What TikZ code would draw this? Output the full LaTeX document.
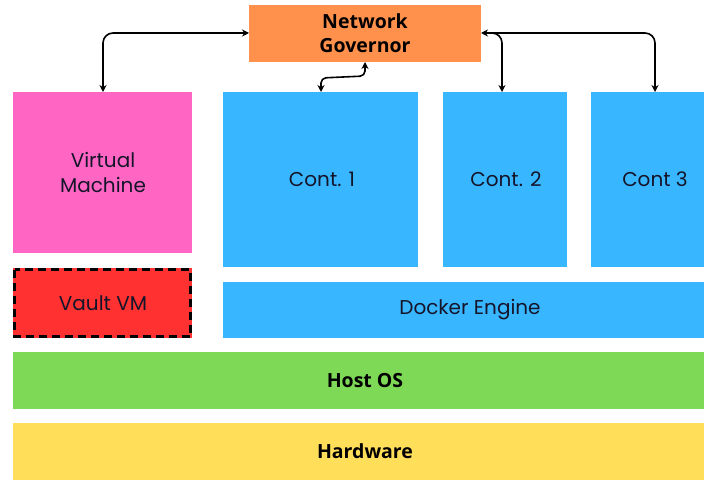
\documentclass[tikz,border=0pt]{standalone}
\usepackage{fontspec}
\setmainfont{Poppins}
\newfontfamily\boldfam{Open Sans}
\usetikzlibrary{arrows.meta}
\definecolor{ngorange}{HTML}{FF914D}
\definecolor{vmpink}{HTML}{FF66C4}
\definecolor{vaultred}{HTML}{FF3131}
\definecolor{contblue}{HTML}{38B6FF}
\definecolor{hostgreen}{HTML}{7ED957}
\definecolor{hwyellow}{HTML}{FFDE59}
\definecolor{txt}{HTML}{15152A}
\begin{document}
\begin{tikzpicture}[x=1pt,y=-1pt,
  blk/.style={inner sep=0pt, align=center, text=txt, font=\fontsize{20}{25}\selectfont},
  bblk/.style={inner sep=0pt, align=center, font=\boldfam\bfseries\fontsize{19.5}{24}\selectfont},
  conn/.style={draw=black, line width=1.6pt, {Stealth[length=7pt,width=7pt]}-{Stealth[length=7pt,width=7pt]}, rounded corners=10pt}]
\useasboundingbox (0,0) rectangle (704,481);
\fill[white] (0,0) rectangle (704,481);
% boxes
\fill[ngorange] (249,5) rectangle (481,62);
\node[bblk] (ng) at (365,33.5) {Network\\Governor};
\fill[vmpink] (13,92) rectangle (192,253);
\node[blk] (vm) at (103,172) {Virtual\\Machine};
\fill[vaultred] (13,268) rectangle (192,338);
\draw[black, line width=3pt, dash pattern=on 8pt off 5pt] (14.5,269.5) rectangle (190.5,336.5);
\node[blk] (vault) at (103,303) {Vault VM};
\fill[contblue] (223,92) rectangle (418,267);
\node[blk] (c1) at (322,179.5) {Cont. 1};
\fill[contblue] (443,92) rectangle (567,267);
\node[blk] (c2) at (506,179.5) {Cont. 2};
\fill[contblue] (591,92) rectangle (704,267);
\node[blk] (c3) at (655,179.5) {Cont 3};
\fill[contblue] (223,282) rectangle (704,338);
\node[blk] (de) at (470,310) {Docker Engine};
\fill[hostgreen] (13,352) rectangle (704,409);
\node[bblk] (host) at (365,380.5) {Host OS};
\fill[hwyellow] (13,423) rectangle (704,480);
\node[bblk] (hw) at (365,451.5) {Hardware};
% anchor coordinates
\coordinate (ngL) at (249,33);
\coordinate (ngR) at (481,33);
\coordinate (ngB) at (365,62);
\coordinate (vmT) at (103,92);
\coordinate (c1T) at (321,92);
\coordinate (c2T) at (502,92);
\coordinate (c3T) at (655,92);
% connectors
\draw[conn] (ngL) -- (103,33) -- (vmT);
\draw[conn, rounded corners=5pt] (ngB) -- (365,76) -- (321,78) -- (c1T);
\draw[conn] (ngR) -- (655,33) -- (c3T);
\draw[conn, -{Stealth[length=7pt,width=7pt]}] (488,33) -- (502,33) -- (c2T);
\end{tikzpicture}
\end{document}
